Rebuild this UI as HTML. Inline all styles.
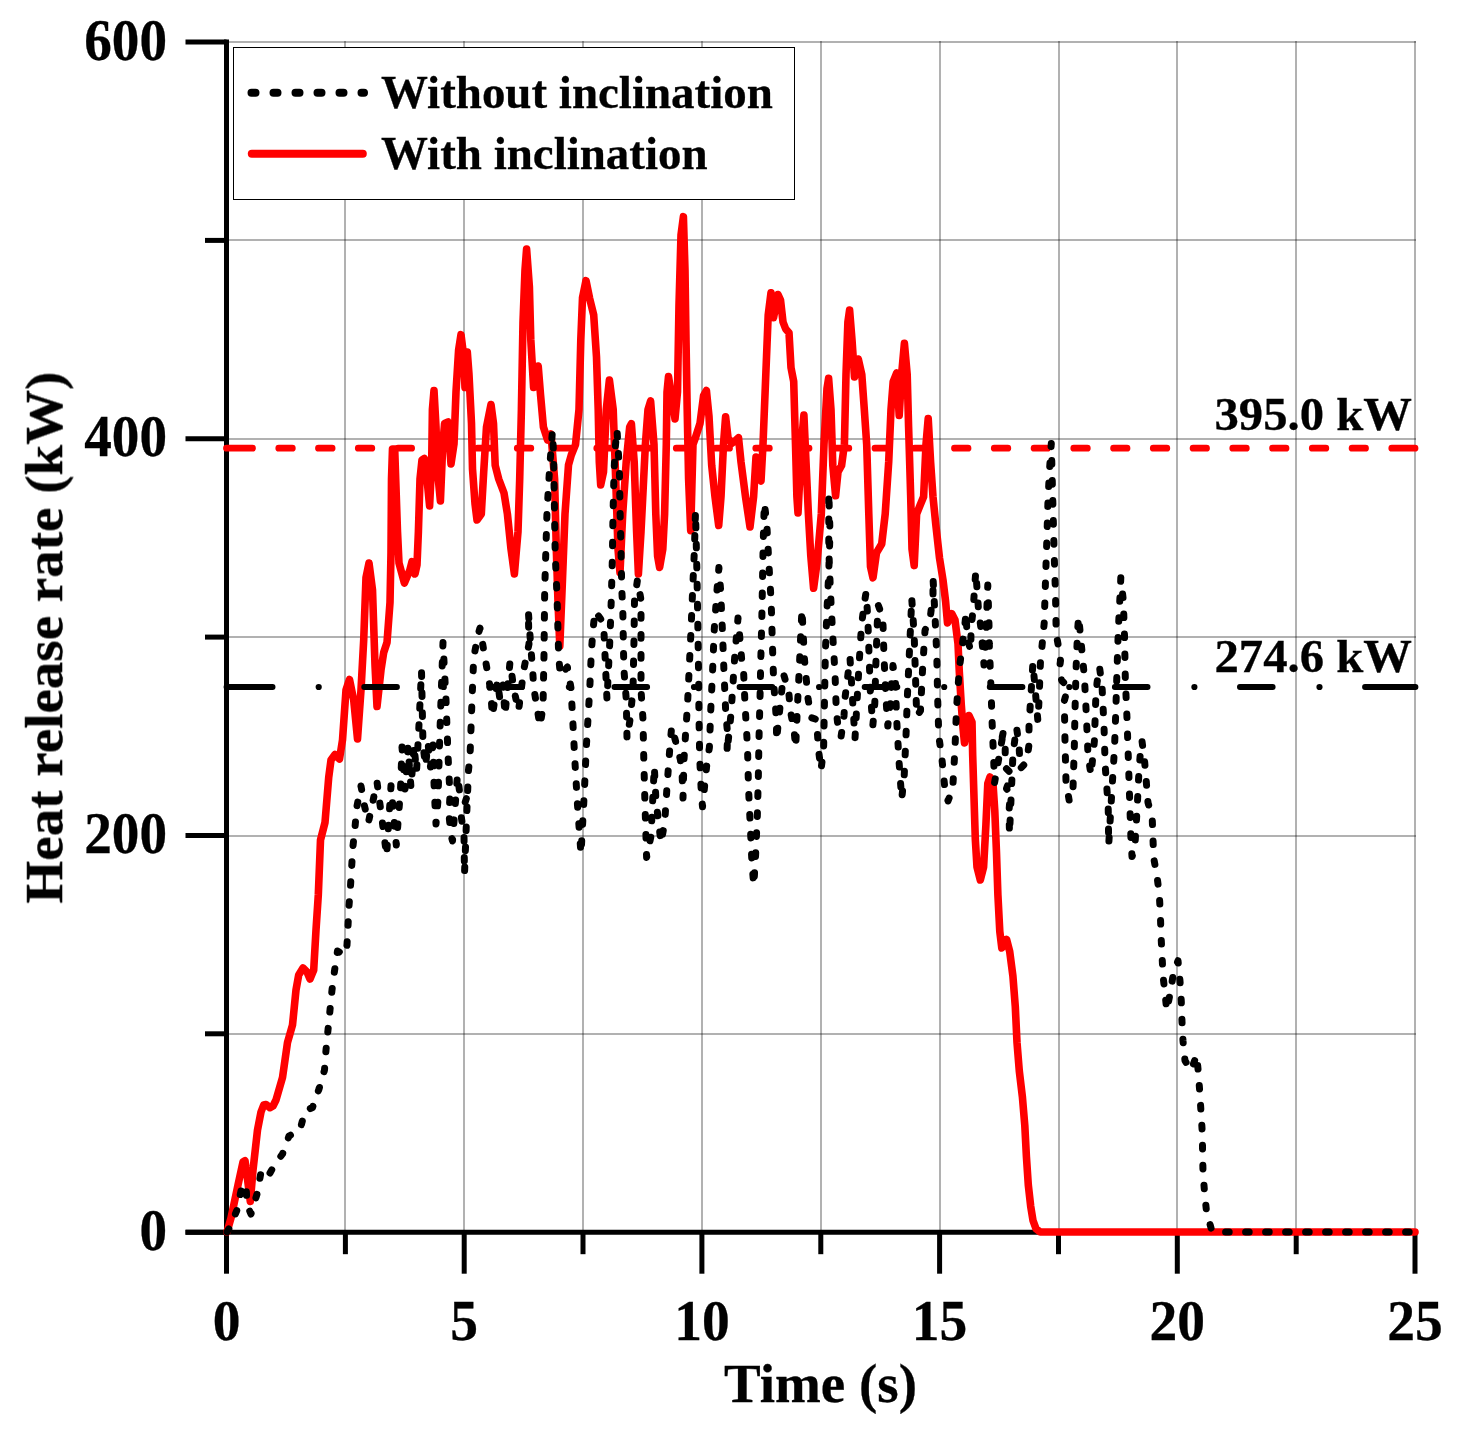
<!DOCTYPE html>
<html><head><meta charset="utf-8"><title>Heat release rate</title>
<style>
html,body{margin:0;padding:0;background:#fff;}
body{width:1462px;height:1432px;overflow:hidden;}
svg{display:block;}
text{font-family:"Liberation Serif",serif;font-weight:bold;fill:#000;stroke:#000;stroke-width:0.3px;}
</style></head><body>
<svg width="1462" height="1432" viewBox="0 0 1462 1432">
<rect x="0" y="0" width="1462" height="1432" fill="#fff"/>
<g stroke="#000" stroke-opacity="0.305" stroke-width="2" shape-rendering="crispEdges">
<line x1="345.4" y1="41.0" x2="345.4" y2="1232.2"/>
<line x1="464.2" y1="41.0" x2="464.2" y2="1232.2"/>
<line x1="583.0" y1="41.0" x2="583.0" y2="1232.2"/>
<line x1="701.9" y1="41.0" x2="701.9" y2="1232.2"/>
<line x1="820.8" y1="41.0" x2="820.8" y2="1232.2"/>
<line x1="939.6" y1="41.0" x2="939.6" y2="1232.2"/>
<line x1="1058.5" y1="41.0" x2="1058.5" y2="1232.2"/>
<line x1="1177.3" y1="41.0" x2="1177.3" y2="1232.2"/>
<line x1="1296.2" y1="41.0" x2="1296.2" y2="1232.2"/>
<line x1="1415.0" y1="41.0" x2="1415.0" y2="1232.2"/>
<line x1="226.5" y1="1033.8" x2="1416.0" y2="1033.8"/>
<line x1="226.5" y1="835.5" x2="1416.0" y2="835.5"/>
<line x1="226.5" y1="637.1" x2="1416.0" y2="637.1"/>
<line x1="226.5" y1="438.7" x2="1416.0" y2="438.7"/>
<line x1="226.5" y1="240.4" x2="1416.0" y2="240.4"/>
<line x1="226.5" y1="42.0" x2="1416.0" y2="42.0"/>
</g>
<g stroke="#000" stroke-width="5" stroke-linecap="butt">
<line x1="226.5" y1="39.5" x2="226.5" y2="1234.7"/>
<line x1="185.5" y1="1232.2" x2="1417.5" y2="1232.2"/>
<line x1="226.5" y1="1232.2" x2="226.5" y2="1273.7"/>
<line x1="464.2" y1="1232.2" x2="464.2" y2="1273.7"/>
<line x1="701.9" y1="1232.2" x2="701.9" y2="1273.7"/>
<line x1="939.6" y1="1232.2" x2="939.6" y2="1273.7"/>
<line x1="1177.3" y1="1232.2" x2="1177.3" y2="1273.7"/>
<line x1="1415.0" y1="1232.2" x2="1415.0" y2="1273.7"/>
<line x1="345.4" y1="1232.2" x2="345.4" y2="1254.2"/>
<line x1="583.0" y1="1232.2" x2="583.0" y2="1254.2"/>
<line x1="820.8" y1="1232.2" x2="820.8" y2="1254.2"/>
<line x1="1058.5" y1="1232.2" x2="1058.5" y2="1254.2"/>
<line x1="1296.2" y1="1232.2" x2="1296.2" y2="1254.2"/>
<line x1="185.5" y1="1232.2" x2="226.5" y2="1232.2"/>
<line x1="185.5" y1="835.5" x2="226.5" y2="835.5"/>
<line x1="185.5" y1="438.7" x2="226.5" y2="438.7"/>
<line x1="185.5" y1="42.0" x2="226.5" y2="42.0"/>
<line x1="205.0" y1="1033.8" x2="226.5" y2="1033.8"/>
<line x1="205.0" y1="637.1" x2="226.5" y2="637.1"/>
<line x1="205.0" y1="240.4" x2="226.5" y2="240.4"/>
</g>
<path d="M226.5,448.2H252.5 M278.8,448.2H292.3 M318.5,448.2H332.1 M358.3,448.2H371.8 M398.0,448.2H411.6 M437.8,448.2H451.3 M477.5,448.2H491.1 M517.3,448.2H530.8 M557.0,448.2H570.5 M596.8,448.2H610.3 M636.5,448.2H650.0 M676.3,448.2H689.8 M716.0,448.2H729.5 M755.8,448.2H769.3 M795.5,448.2H809.0 M835.3,448.2H848.8 M875.0,448.2H888.5 M914.8,448.2H928.3 M954.5,448.2H968.0 M994.3,448.2H1007.8 M1034.1,448.2H1047.5 M1073.8,448.2H1087.3 M1113.6,448.2H1127.0 M1153.3,448.2H1166.8 M1193.1,448.2H1206.5 M1232.8,448.2H1246.3 M1272.6,448.2H1286.0 M1312.3,448.2H1325.8 M1352.1,448.2H1365.5 M1391.8,448.2H1415.0" fill="none" stroke="#ff0000" stroke-width="6.8" stroke-linecap="round"/>
<polyline points="227,1232.0 231,1218.0 238,1185.0 243,1162.0 245,1160.7 247,1175.0 250.3,1201.4 253,1170.0 257.5,1130.0 261,1112.0 263.7,1105.0 266,1104.5 270,1107.7 273,1106.0 276,1100.0 282.5,1077.5 287.5,1042.5 292.5,1025.0 296,990.0 298.7,975.0 303,968.0 307,972.0 310,979.0 313.7,970.0 316,930.0 318.3,895.0 320.5,840.0 325,822.5 328.7,777.5 331,760.0 335,754.5 339.5,759.0 342.5,740.0 346,690.0 349.5,679.5 353.7,700.0 357.5,739.0 361,690.0 363.7,640.0 366,577.5 369,563.0 372.5,590.0 375,665.0 377,706.5 381,670.0 383.7,652.5 387,642.5 390,602.5 391,552.5 391.5,479.0 392.5,449.0 394.7,449.0 395.7,479.0 397.5,531.7 399,563.0 404.4,583.0 409.7,570.6 412,561.6 415,574.0 417,565.0 418.4,531.7 420,479.0 422,460.0 424.3,458.6 427,479.0 429.6,506.0 431.7,462.0 432.4,409.5 434,390.5 436,427.0 437.6,472.0 440.4,501.0 442.8,444.0 444.6,423.5 448,422.0 451,464.0 454,444.0 456,392.0 458.6,350.0 461,334.7 463.8,357.0 465,387.5 467.3,352.0 469,374.6 471.5,423.5 472.5,469.0 475,503.8 477,520.0 481.3,514.0 483.7,472.0 486.5,427.0 491,404.5 493.5,423.5 495.2,465.4 498.7,479.0 504,493.0 507.4,514.0 511,549.0 514.4,574.0 518,531.7 519.7,479.0 521.4,409.5 523,322.0 525,270.0 526.6,249.0 529.4,287.0 530.8,339.7 533.6,387.5 536,374.6 538.2,366.0 540.6,395.5 543.4,427.0 547.6,440.0 551,434.0 554.6,479.0 556.3,549.0 558,601.7 559.8,646.0 562.3,584.0 565,514.0 568.5,465.0 571.3,455.0 575.5,444.6 579,409.5 580.8,339.7 582.5,297.8 586,280.6 589.5,297.8 593.7,315.0 596.5,357.0 598.2,409.5 599.3,462.0 600.7,485.0 603.5,472.0 606.3,409.5 609.4,380.0 613.2,409.5 615.7,479.0 618,549.0 620,572.6 622.7,514.0 626.2,462.0 629.7,427.0 631.4,423.7 634.2,462.0 636.6,531.7 638.4,574.0 641,531.7 645.4,444.4 648,409.5 650.6,401.0 654,444.4 655.8,514.0 657.6,556.0 659.6,567.4 662.8,549.0 664.6,514.0 666.3,444.4 667,392.0 668.5,376.6 671.7,397.0 675,419.0 677.5,392.0 679,304.7 681,235.0 683.4,216.7 685,270.0 686,339.7 687.2,409.5 688.6,479.0 690.7,530.7 693,444.4 695,439.0 700,423.5 703.6,395.5 706.4,390.5 709,416.5 711.7,465.4 715,496.8 718.7,525.5 721,496.8 723.5,444.4 725.6,416.7 728,437.4 731.6,443.4 735,441.0 738.5,437.7 741,462.0 745.5,496.8 750,527.0 753.6,496.8 756,457.0 759.5,479.0 761,481.0 763,444.4 765.8,374.6 768.2,315.0 771,292.8 773.5,317.7 778,294.5 780.5,300.0 783,322.0 785.7,329.0 789,332.7 791,367.6 793.7,381.5 795.5,444.4 796.9,496.8 798,513.0 799.7,479.0 801.4,444.4 803.9,415.0 806,462.0 808.4,514.0 810.8,556.0 813.6,588.3 817,563.0 821.3,514.0 824,444.4 827,388.5 828.6,378.3 831,409.5 832.8,465.4 835.6,495.8 838,472.0 841.6,465.4 844.4,444.4 846,374.6 847.9,322.0 849.6,310.0 852,339.7 854.5,377.0 858.3,359.0 861.8,374.6 864.3,409.5 866.7,444.4 868.8,514.0 870.5,566.6 873,577.8 876.5,552.7 881.7,544.0 885.2,514.0 888.7,462.0 891,409.5 893.2,381.6 896.7,373.0 899.2,415.5 901.6,374.6 904.4,343.4 907.2,374.6 908.6,427.0 910.7,496.8 912,549.0 914.2,565.6 916.6,514.0 920,505.5 923.6,496.8 926,444.4 928.2,418.5 930.6,462.0 933,496.8 935.8,524.7 939.5,558.0 943,580.0 945.6,601.5 947.5,623.0 951.8,613.7 955,620.0 958,643.8 959.3,671.7 961.3,705.0 963,727.6 964.5,743.0 969,715.6 972,722.0 972.7,755.5 974,797.4 975.3,839.0 977,867.0 980.3,880.0 983.6,867.0 985.9,825.0 987.8,783.5 990,777.0 992.8,780.7 994.8,811.0 996.5,853.0 997.9,895.0 999.8,931.5 1001.8,948.0 1006.6,939.5 1009.7,951.5 1012.9,976.0 1015.3,1006.8 1017,1042.5 1019.3,1071.0 1022.4,1097.0 1024.8,1125.5 1026.4,1156.4 1028.3,1185.0 1030.7,1206.3 1033,1220.5 1036,1228.8 1040.2,1232.0 1415,1232.0" fill="none" stroke="#ff0000" stroke-width="7.6" stroke-linejoin="round" stroke-linecap="round"/>
<path d="M226.5,687.0H272.6 M364.2,687.0H397.0 M489.3,687.0H522.1 M614.4,687.0H647.2 M739.5,687.0H772.3 M864.6,687.0H897.4 M989.7,687.0H1022.5 M1114.8,687.0H1147.6 M1239.9,687.0H1272.7 M1365.0,687.0H1415.5" fill="none" stroke="#000" stroke-width="5.8" stroke-linecap="round"/>
<g fill="#000"><circle cx="318.7" cy="687.0" r="3.1"/><circle cx="443.8" cy="687.0" r="3.1"/><circle cx="568.9" cy="687.0" r="3.1"/><circle cx="694.0" cy="687.0" r="3.1"/><circle cx="819.1" cy="687.0" r="3.1"/><circle cx="944.2" cy="687.0" r="3.1"/><circle cx="1069.3" cy="687.0" r="3.1"/><circle cx="1194.4" cy="687.0" r="3.1"/><circle cx="1319.5" cy="687.0" r="3.1"/></g>
<polyline points="227,1232 230,1227 237,1210 241,1191 246,1184 247,1205 251,1214 257.5,1192.5 261,1172 267.5,1177.5 275,1164 282.5,1154 289,1136 300,1130 305,1111 312.5,1107.5 319,1089 324.5,1070 326,1050 328,1030 330,1010 332,990 334.5,971 337.5,951 345,955 347,945 348,926 349,906 350.5,886 351.7,866 353,846 355,827.5 356.7,807.5 361,786 364.5,806 368.4,822.5 377,782 382.4,822.5 386.6,855.7 391,785.8 396.3,845 400.5,790 402,747 405,789 408,747 411,788 414,745 416.5,772 418.5,735 421.5,670.6 423,745 425.5,766 428,743 430.5,767 433,745 434,783 435,805 436,824 438,800 439.5,745 441,700 443,642.5 446,700 448,755 449,775 450,795 449,815 451,835 452.5,841 457.5,775 460,795 467.5,795 461,815 464,835 464.5,874 466.5,820 468.5,770 470,757 472,700 473.7,657.5 478,635 480,628 483.6,649.6 487,669 490.6,690 492.4,716 497.5,681 500,700 503,685 505,715 510,662 514,690 518.5,711 523.7,670 529,644 528.3,611 531,650 532.5,667.5 533.7,687.5 540,726 543,707 544,655 544.7,590 547,511.7 549.5,470 552.4,431.4 553.5,452 555.2,553.6 557,595.5 558.7,656.6 560.4,675.8 567.4,667 571,688 573,725 575,763 577.5,805 581,854 584.4,791 586.2,749 589.7,690 591.4,651 593,630 595,611 603.6,623 607,700 610,637 611.3,599 612.4,557 613,515 614,473 615,450 617,429.7 619.4,469.8 620,508 621,550 621.8,590 622.8,609.5 623.5,651 624,670.6 626.3,700 627,738.7 630,720 633,690 634,640 634.5,600 637.5,579.8 641,600 641,690 643,719.5 643.8,759.6 644.8,798 646.6,857.4 651,836 654.3,766.6 656,801.5 657.8,815.5 661,843 664.7,822.5 667.2,784 670,745.6 671.7,726.5 680.4,759.6 682.2,777 683,798 684,759.6 685.7,731.7 687.4,707 689.2,668.8 691,630.4 692.7,588.5 694.4,550 695.5,511.7 696.9,571 698,634 698.6,676 699,717.7 699.7,758 701.4,794.5 702.5,806.8 706.6,766.6 709.4,747.4 710.8,709 712.6,670.6 714.3,628.7 717,590 718.9,567.6 720.6,590 722.4,630.4 724,672.3 725.8,714 727.6,733.4 727,752.7 731,714 733.5,675.8 734.6,658.4 738,618 739.8,637.4 741.6,658.4 743.3,665.4 745,703.8 747.5,747.4 748.5,787.6 750.3,826 752,864.4 753.8,885.3 755.5,857.4 757.3,817 758.3,778.8 759,738.7 760,698.5 760.8,660 761.8,620 762.5,581.6 763.2,543 764.3,503 766.7,522.2 768.8,562.4 771.2,602.5 772.3,641 773.7,682.8 776.5,721 776.5,740.4 780,707 783.5,674 788.7,691.5 790.4,710.8 794,730 795.7,747.4 797.4,707 799.2,670.6 801,628.7 802,609.5 804.4,658.4 808,698.5 811.4,717.7 816.6,719.5 818.4,749 821,770 823.6,749 824.5,700 825.4,651.4 827,609.5 828.8,571 830,532.7 828.8,492.5 828.8,550 830.5,592.8 832.6,633 835,673 836.3,711 838.8,733.5 841,737 844,716 845,698 850,658 852,690 853.5,715 855,738.5 859,665.6 861.5,625.4 864,605.3 866,592.8 867.7,615.4 869,653 870.3,690.8 872.8,726 874.8,703.3 875.8,665.6 877.3,623 878.3,605.3 882.8,617.9 884,656.8 885.8,695.8 887.8,726 890.4,703.3 891.6,683 893,665.6 895.4,680.7 896.6,718.4 899,761 901.7,799 904.2,776 906,736 907.4,696 909.2,656.8 911,616.6 911.7,597.8 914.2,635.5 915.5,677 916.7,716 920.5,710.8 922.5,670.7 925,630.5 926.8,625 930.5,615.4 933,595.3 933,577.7 935,615.4 936.8,655.6 937.6,695.8 938.8,736 941.9,758.6 944.9,788.7 948,801 952.7,788.7 955,748.5 956.5,708.3 959.4,668 962,648 964.5,628 966,613 967.2,638 970.8,651 971,629 973.3,607.8 974.5,589 975.8,571.4 978.5,610 980.8,627 982.6,648 984,665 986,640 987,605 987.8,585 989,625 989.3,644 990.9,685.7 992.2,724.7 994.6,782.5 1004,728.4 1000.2,747.3 1005.2,748.5 1005.2,767.4 1011.5,773.7 1006.5,788.7 1010.3,793.8 1009,811.4 1009.5,834 1013,753.6 1016.5,727 1019,745 1020.3,768.6 1026.6,762 1029,744.7 1029,724.6 1031.6,684.5 1032.9,663 1037.9,721 1039,700.8 1040.4,663 1044.2,623 1045.4,584 1046.7,543.8 1048,500 1049.5,470 1051.3,443.6 1052.5,490 1054.2,555 1055.5,594 1056.2,634 1059.2,650.6 1060.5,660.6 1059.2,670.7 1061.8,680.7 1068,687 1064.3,700.8 1065,741 1066,781.2 1069.3,801.3 1073,788.7 1074.3,748.5 1075,711 1076,670.7 1077.6,630.5 1078.6,616.6 1080.6,636.7 1084.4,677 1086.4,716 1088,754.8 1091,775 1094.4,741 1095.7,700.8 1097,683 1099.5,667 1102,685.7 1104,726 1105.2,766 1108.2,806.3 1108.7,845 1112,788.7 1114.5,748.5 1115.8,711 1117,670.7 1118.3,630.5 1120.3,590.3 1120.8,577.7 1123.3,600.3 1124.6,639 1125.3,678.2 1127,718.4 1128.3,757.3 1129.6,797.5 1130.9,837.7 1132,856.6 1134.6,850.3 1137,811.4 1138.9,772.4 1140.4,752.3 1142,741 1144.7,762.4 1148,802.6 1152.2,817.6 1153.7,858 1157,876 1159.3,894.5 1160.4,915 1161,935 1162,954.5 1163,975.5 1165,993.6 1166.8,1010.4 1170.4,992 1173.8,971 1178,960.7 1180,981 1181.3,1001.5 1182,1021.6 1183,1041 1185,1060.7 1191,1070.4 1196.7,1055 1198.4,1073 1199.8,1092.8 1201,1112 1202.3,1133 1202.6,1152.8 1203,1172 1204.5,1192 1206.5,1211.5 1211.5,1229.7 1215,1232 1415,1232" fill="none" stroke="#000" stroke-width="7" stroke-linejoin="round" stroke-linecap="round" stroke-dasharray="3.6 16.4"/>
<rect x="233.5" y="47.5" width="561" height="152" fill="#fff" stroke="#000" stroke-width="1" shape-rendering="crispEdges"/>
<path d="M251.5,92.8H364" fill="none" stroke="#000" stroke-width="8" stroke-linecap="round" stroke-dasharray="4 18"/>
<path d="M251.8,153.8H362.8" fill="none" stroke="#ff0000" stroke-width="8" stroke-linecap="round"/>
<g opacity="0.999">
<text transform="translate(381.0,107.6) scale(1.008,1)" font-size="46.6px" text-anchor="start">Without inclination</text>
<text transform="translate(381.0,169.0) scale(1.008,1)" font-size="46.6px" text-anchor="start">With inclination</text>
<text transform="translate(1412.0,430.0) scale(1.045,1)" font-size="46.6px" text-anchor="end">395.0 kW</text>
<text transform="translate(1412.0,672.0) scale(1.045,1)" font-size="46.6px" text-anchor="end">274.6 kW</text>
<text transform="translate(226.5,1339.6) scale(1,1.03)" font-size="55.5px" text-anchor="middle">0</text>
<text transform="translate(464.2,1339.6) scale(1,1.03)" font-size="55.5px" text-anchor="middle">5</text>
<text transform="translate(701.9,1339.6) scale(1,1.03)" font-size="55.5px" text-anchor="middle">10</text>
<text transform="translate(939.6,1339.6) scale(1,1.03)" font-size="55.5px" text-anchor="middle">15</text>
<text transform="translate(1177.3,1339.6) scale(1,1.03)" font-size="55.5px" text-anchor="middle">20</text>
<text transform="translate(1415.0,1339.6) scale(1,1.03)" font-size="55.5px" text-anchor="middle">25</text>
<text transform="translate(167.0,1249.8) scale(0.995,1.06)" font-size="55.5px" text-anchor="end">0</text>
<text transform="translate(167.0,853.1) scale(0.995,1.06)" font-size="55.5px" text-anchor="end">200</text>
<text transform="translate(167.0,456.3) scale(0.995,1.06)" font-size="55.5px" text-anchor="end">400</text>
<text transform="translate(167.0,59.6) scale(0.995,1.06)" font-size="55.5px" text-anchor="end">600</text>
<text transform="translate(820.5,1401.8)" font-size="55px" text-anchor="middle">Time (s)</text>
<text transform="translate(61.8,637.5) rotate(-90) scale(1,0.955)" font-size="55px" text-anchor="middle">Heat release rate (kW)</text>
</g>
</svg>
</body></html>
